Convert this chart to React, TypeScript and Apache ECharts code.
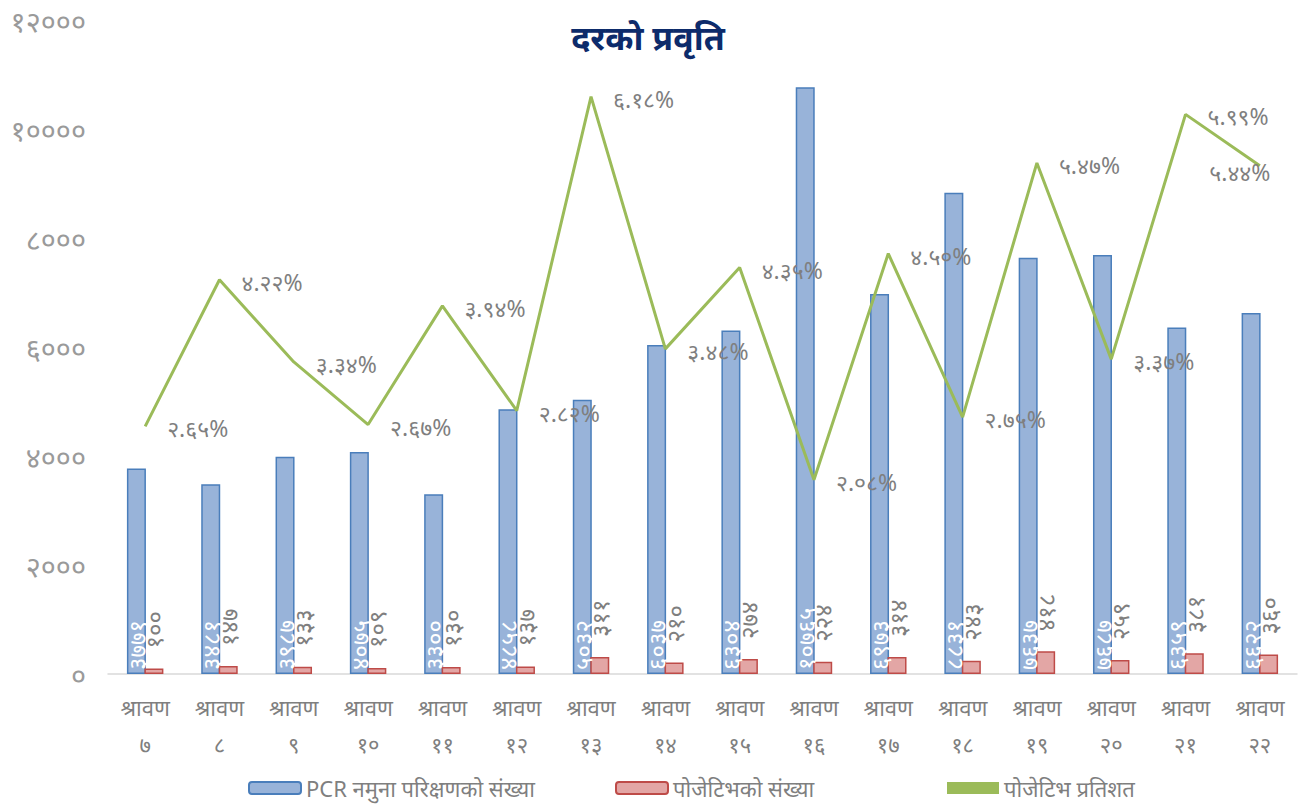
import React, { useEffect, useRef } from "react";
import * as echarts from "echarts";

const categories = ["7", "8", "9", "10", "11", "12", "13", "14", "15", "16", "17", "18", "19", "20", "21", "22"];
const tests = [3771, 3481, 3987, 4075, 3300, 4858, 5032, 6037, 6304, 10765, 6973, 8831, 7637, 7687, 6359, 6622];
const positives = [100, 147, 133, 109, 130, 137, 311, 210, 274, 224, 314, 243, 418, 259, 381, 360];
const positiveRate = [2.65, 4.22, 3.34, 2.67, 3.94, 2.82, 6.18, 3.48, 4.35, 2.08, 4.5, 2.75, 5.47, 3.37, 5.99, 5.44];
const yTicks = [0, 2000, 4000, 6000, 8000, 10000, 12000];
const seriesNames = ["PCR नमुना परिक्षणको संख्या", "पोजेटिभको संख्या", "पोजेटिभ प्रतिशत"];

const DIG = "०१२३४५६७८९";
const dev = (s: string | number) => String(s).replace(/[0-9]/g, (d) => DIG[+d]);

const FONT = "'Noto Sans', sans-serif";
const GRAY = "#7f7f7f";

const legendAt = (left: number, item: any) => ({
  left,
  bottom: 3,
  itemWidth: 52,
  itemHeight: 12,
  textStyle: { fontSize: 22, color: GRAY, fontFamily: FONT },
  data: [item],
});

export default function App() {
  const ref = useRef<HTMLDivElement>(null);
  useEffect(() => {
    document.body.style.margin = "0";
    if (!ref.current) return;
    const chart = echarts.init(ref.current, null, { renderer: "svg" });
    chart.setOption({
      animation: false,
      textStyle: { fontFamily: FONT },
      title: {
        text: "दरको प्रवृति",
        left: 643,
        textAlign: "center",
        top: 15,
        textStyle: { fontSize: 34, fontWeight: "bold", color: "#0d2b6b", fontFamily: FONT },
      },
      legend: [
        legendAt(243, { name: seriesNames[0] }),
        legendAt(610, { name: seriesNames[1] }),
        legendAt(942, { name: seriesNames[2], icon: "rect", itemStyle: { color: "#9BBB59" } }),
      ],
      grid: { left: 108, right: 7, top: 20, bottom: 133 },
      xAxis: {
        type: "category",
        data: categories,
        axisLine: { lineStyle: { color: "#d9d9d9", width: 1.5 } },
        axisTick: { show: false },
        axisLabel: {
          interval: 0,
          color: GRAY,
          fontSize: 22,
          lineHeight: 37,
          margin: 14,
          fontFamily: FONT,
          formatter: (v: string) => "श्रावण\n" + dev(v),
        },
      },
      yAxis: [
        {
          type: "value",
          min: yTicks[0],
          max: yTicks[yTicks.length - 1],
          interval: 2000,
          splitLine: { show: false },
          axisLine: { show: false },
          axisTick: { show: false },
          axisLabel: { color: "#9a9a9a", fontSize: 29, margin: 22, fontFamily: FONT, formatter: (v: number) => dev(v) },
        },
        { type: "value", min: 0, max: 7, show: false, splitLine: { show: false } },
      ],
      series: [
        {
          name: seriesNames[0],
          type: "bar",
          data: tests,
          barWidth: 19,
          barGap: "-8%",
          itemStyle: { color: "#98b3d9", borderColor: "#4a7ebb", borderWidth: 1.5 },
          label: {
            show: true,
            position: "insideBottom",
            rotate: 90,
            align: "left",
            verticalAlign: "middle",
            distance: 4,
            color: "#ffffff",
            fontSize: 24,
            fontFamily: FONT,
            formatter: (p: any) => dev(p.value),
          },
        },
        {
          name: seriesNames[1],
          type: "bar",
          data: positives,
          barWidth: 19,
          itemStyle: { color: "#e3a6a5", borderColor: "#be4b48", borderWidth: 1.5 },
          label: {
            show: true,
            position: "top",
            rotate: 90,
            align: "left",
            verticalAlign: "middle",
            distance: 20,
            color: GRAY,
            fontSize: 24,
            fontFamily: FONT,
            formatter: (p: any) => dev(p.value),
          },
        },
        {
          name: seriesNames[2],
          type: "line",
          yAxisIndex: 1,
          data: positiveRate.map((v, i) =>
            i === positiveRate.length - 1
              ? { value: v, label: { position: "inside", offset: [-20, 6] } }
              : v
          ),
          symbol: "circle",
          symbolSize: 0,
          showSymbol: true,
          lineStyle: { color: "#9BBB59", width: 3 },
          itemStyle: { color: "#9BBB59" },
          label: {
            show: true,
            position: "right",
            distance: 22,
            offset: [0, 2],
            color: GRAY,
            fontSize: 23,
            fontFamily: FONT,
            formatter: (p: any) => dev(Number(p.value).toFixed(2)) + "%",
          },
        },
      ],
    });
    return () => chart.dispose();
  }, []);
  return <div ref={ref} style={{ width: 1304, height: 807 }} />;
}
